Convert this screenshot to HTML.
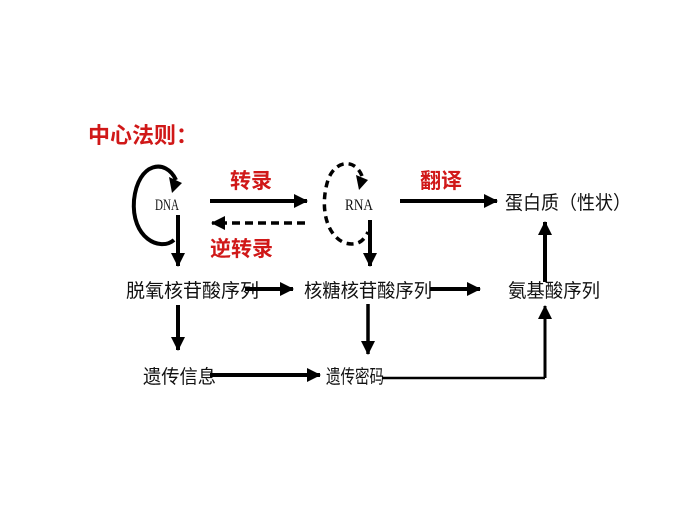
<!DOCTYPE html>
<html><head><meta charset="utf-8"><style>
html,body{margin:0;padding:0;background:#fff;}
svg{display:block}
text{font-family:"Liberation Sans","Noto Sans CJK SC",sans-serif;}
.r{fill:#d01818;font-weight:bold;font-size:21px}
.b{fill:#111;font-size:19px}
.s{font-family:"Liberation Serif",serif;font-size:16px;fill:#111}
</style></head><body>
<svg width="678" height="509" viewBox="0 0 678 509">
<defs>
<marker id="h" markerWidth="14" markerHeight="14" refX="13" refY="7" orient="auto" markerUnits="userSpaceOnUse" viewBox="0 0 14 14"><path d="M0,0 L14,7 L0,14 z" fill="#000"/></marker>
</defs>
<text x="88" y="143" class="r" style="font-size:22px">中心法则：</text>
<text x="155" y="210" class="s" textLength="24" lengthAdjust="spacingAndGlyphs">DNA</text>
<text x="345" y="210" class="s" textLength="28" lengthAdjust="spacingAndGlyphs">RNA</text>
<text x="230" y="188" class="r">转录</text>
<text x="210" y="256" class="r">逆转录</text>
<text x="420" y="188" class="r">翻译</text>
<!-- DNA loop -->
<path d="M176,180 C166,158 138,162 134,200 C131,238 160,252 174,240" fill="none" stroke="#000" stroke-width="4"/>
<path d="M169,177 L182,183 L172,193 z" fill="#000"/>
<!-- RNA dashed loop -->
<path d="M362,176 C355,158 335,160 328,180 C320,205 325,235 345,243 C360,247 365,238 368,232" fill="none" stroke="#000" stroke-width="3.5" stroke-dasharray="7,5"/>
<path d="M356,175 L368,180 L359,190 z" fill="#000"/>
<line x1="210" y1="201" x2="307" y2="201" stroke="#000" stroke-width="4" marker-end="url(#h)"/>
<line x1="305" y1="223" x2="212" y2="223" stroke="#000" stroke-width="3.5" stroke-dasharray="8,5" marker-end="url(#h)"/>
<line x1="400" y1="201" x2="497" y2="201" stroke="#000" stroke-width="4" marker-end="url(#h)"/>
<text x="505" y="209" class="b" textLength="126" lengthAdjust="spacingAndGlyphs">蛋白质（性状）</text>
<line x1="178" y1="215" x2="178" y2="266" stroke="#000" stroke-width="4" marker-end="url(#h)"/>
<line x1="370" y1="220" x2="370" y2="266" stroke="#000" stroke-width="4" marker-end="url(#h)"/>
<line x1="545" y1="282" x2="545" y2="222" stroke="#000" stroke-width="4" marker-end="url(#h)"/>
<text x="126" y="297" class="b" textLength="133" lengthAdjust="spacingAndGlyphs">脱氧核苷酸序列</text>
<text x="304" y="297" class="b" textLength="128" lengthAdjust="spacingAndGlyphs">核糖核苷酸序列</text>
<text x="508" y="297" class="b" textLength="92" lengthAdjust="spacingAndGlyphs">氨基酸序列</text>
<line x1="245" y1="289" x2="293" y2="289" stroke="#000" stroke-width="4" marker-end="url(#h)"/>
<line x1="430" y1="289" x2="480" y2="289" stroke="#000" stroke-width="4" marker-end="url(#h)"/>
<line x1="178" y1="305" x2="178" y2="350" stroke="#000" stroke-width="4" marker-end="url(#h)"/>
<line x1="368" y1="304" x2="368" y2="354" stroke="#000" stroke-width="3.5" marker-end="url(#h)"/>
<line x1="545" y1="378" x2="545" y2="306" stroke="#000" stroke-width="3" marker-end="url(#h)"/>
<text x="143" y="383" class="b" textLength="73" lengthAdjust="spacingAndGlyphs">遗传信息</text>
<text x="326" y="383" class="b" textLength="58" lengthAdjust="spacingAndGlyphs">遗传密码</text>
<line x1="210" y1="375" x2="320" y2="375" stroke="#000" stroke-width="4" marker-end="url(#h)"/>
<polyline points="382,378 545,378" fill="none" stroke="#000" stroke-width="2.5"/>
</svg>
</body></html>
